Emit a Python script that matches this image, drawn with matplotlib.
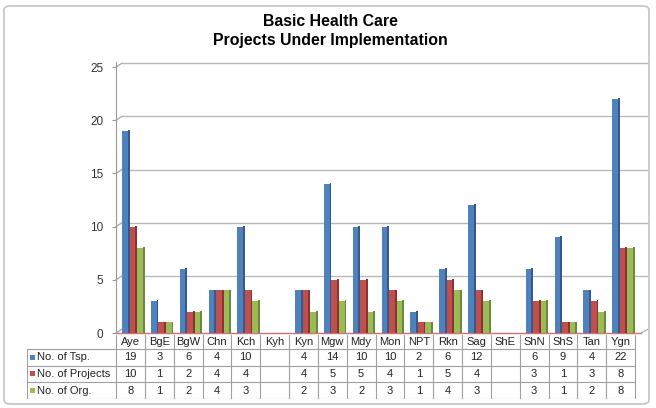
import numpy as np
import matplotlib
matplotlib.use('Agg')
from matplotlib import pyplot as plt
from matplotlib.patches import Rectangle, FancyBboxPatch

plt.rcParams['font.family'] = ['Liberation Sans', 'DejaVu Sans']

categories = ['Aye', 'BgE', 'BgW', 'Chn', 'Kch', 'Kyh', 'Kyn', 'Mgw', 'Mdy', 'Mon',
              'NPT', 'Rkn', 'Sag', 'ShE', 'ShN', 'ShS', 'Tan', 'Ygn']
tsp = [19, 3, 6, 4, 10, None, 4, 14, 10, 10, 2, 6, 12, None, 6, 9, 4, 22]
projects = [10, 1, 2, 4, 4, None, 4, 5, 5, 4, 1, 5, 4, None, 3, 1, 3, 8]
orgs = [8, 1, 2, 4, 3, None, 2, 3, 2, 3, 1, 4, 3, None, 3, 1, 2, 8]
series_names = ['No. of Tsp.', 'No. of Projects', 'No. of Org.']
yticks = [0, 5, 10, 15, 20, 25]

colors = ['#4f81bd', '#c0504d', '#9bbb59']
sides = ['#36598a', '#8a3432', '#6d873b']

W, H = 656, 408
fig = plt.figure(figsize=(W / 100, H / 100), dpi=100)

# outer frame
frame = FancyBboxPatch((4 / W, 4 / H), 645 / W, 398 / H, boxstyle='round,pad=0,rounding_size=0.01',
                       transform=fig.transFigure, fill=False, edgecolor='#c4c4c4', lw=1.2)
fig.patches.append(frame)

fig.text(330 / W, 1 - 22 / H, 'Basic Health Care', ha='center', va='center',
         fontsize=11.4, fontweight='bold')
fig.text(330 / W, 1 - 40.5 / H, 'Projects Under Implementation', ha='center', va='center',
         fontsize=11.4, fontweight='bold')

# plot area in pixels
x0, x1 = 116, 648
y0, y1 = 333, 62
ncat = len(categories)
cw = (635 - x0) / ncat
ax = fig.add_axes([x0 / W, 1 - y0 / H, (x1 - x0) / W, (y0 - y1) / H])
ax.set_xlim(0, (x1 - x0) / cw)
ymax = (y0 - y1) / ((333 - 67) / 25)
ax.set_ylim(0, ymax)
for s in ['top', 'right', 'bottom']:
    ax.spines[s].set_visible(False)
ax.spines['left'].set_color('#9a9a9a')
ax.set_xticks([])
ax.set_yticks(yticks)
ax.set_yticklabels([str(t) for t in yticks], fontsize=8.5, color='#333333')
ax.tick_params(axis='y', length=3, color='#9a9a9a', pad=6)

# back wall gridlines (offset a bit upward like the 3d wall)
off = 0.35
xr = (x1 - x0) / cw
for v in yticks:
    ax.plot([0, 0.2], [v, v + off], color='#a8a8a8', lw=0.9, clip_on=False)
    if v > 0:
        ax.plot([0.2, xr], [v + off, v + off], color='#b8b8b8', lw=1.0, clip_on=False)
ax.plot([0, xr - 0.25], [0, 0], color='#d07070', lw=1.0, clip_on=False)
ax.plot([xr - 0.25, xr], [0, off], color='#b0b0b0', lw=0.9, clip_on=False)

bw = 0.26
face = 0.195
for k, vals in enumerate([tsp, projects, orgs]):
    for i, v in enumerate(vals):
        if v is None:
            continue
        left = i + 0.21 + k * bw
        ax.add_patch(Rectangle((left, 0), face, v, facecolor=colors[k], edgecolor='none', zorder=3))
        ax.add_patch(Rectangle((left + face, 0), bw - face, v + 0.08, facecolor=sides[k],
                               edgecolor='none', zorder=3))

# data table
tx0 = 27
ty0, ty1 = 333, 399
tax = fig.add_axes([tx0 / W, 1 - ty1 / H, (x1 - tx0) / W, (ty1 - ty0) / H])
tax.set_xlim(-(x0 - tx0) / cw, xr)
tax.set_ylim(ty1, ty0)
tax.axis('off')
lab_x = -(x0 - tx0) / cw
rows = [349, 365.5, 382, 399]
gc = '#a0a0a0'
for r in rows:
    tax.plot([lab_x, ncat], [r, r], color=gc, lw=0.8)
tax.plot([lab_x, lab_x], [rows[0], rows[-1]], color=gc, lw=0.8)
for i in range(ncat + 1):
    tax.plot([i, i], [ty0 + 2, rows[-1]], color=gc, lw=0.8)

tfont = dict(fontsize=8, color='#222222')
for i, c in enumerate(categories):
    tax.text(i + 0.5, (ty0 + rows[0]) / 2 + 1, c, ha='center', va='center', **tfont)
for k, (name, vals) in enumerate(zip(series_names, [tsp, projects, orgs])):
    yc = (rows[k] + rows[k + 1]) / 2
    tax.add_patch(Rectangle((lab_x + 0.1, yc - 2.5), 0.18, 5, facecolor=colors[k], edgecolor='none'))
    tax.text(lab_x + 0.33, yc, name, ha='left', va='center', **tfont)
    for i, v in enumerate(vals):
        if v is not None:
            tax.text(i + 0.5, yc, str(v), ha='center', va='center', **tfont)

fig.savefig('out.png', dpi=100)
